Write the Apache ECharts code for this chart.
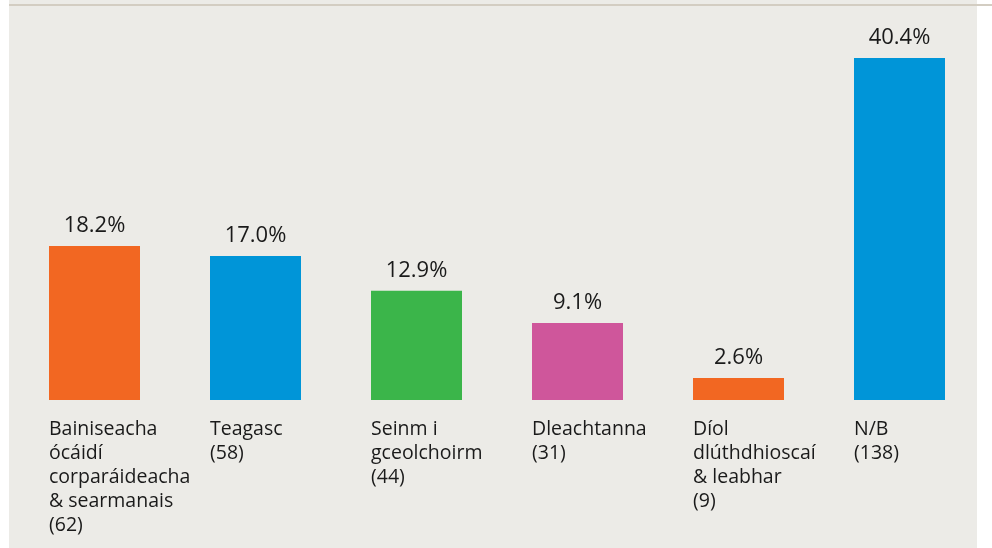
<!DOCTYPE html>
<html>
<head>
<meta charset="utf-8">
<script src="https://cdn.jsdelivr.net/npm/echarts@6/dist/echarts.min.js"></script>
<style>
    html, body { margin: 0; padding: 0; background: #ffffff; }
    #chart { width: 992px; height: 548px; }
</style>
</head>
<body>
<div id="chart"></div>
<script>
// Chart data
const categories = [
    'Bainiseacha\nócáidí\ncorparáideacha\n& searmanais\n(62)',
    'Teagasc\n(58)',
    'Seinm i\ngceolchoirm\n(44)',
    'Dleachtanna\n(31)',
    'Díol\ndlúthdhioscaí\n& leabhar\n(9)',
    'N/B\n(138)'
];
const percentValues = [18.2, 17.0, 12.9, 9.1, 2.6, 40.4];
const barColors = ['#f26722', '#0095d8', '#3bb54a', '#cf569b', '#f26722', '#0095d8'];

const chart = echarts.init(document.getElementById('chart'));

const option = {
    animation: false,
    graphic: [
        // panel background
        { type: 'rect', shape: { x: 9, y: 0, width: 968, height: 548 }, style: { fill: '#ecebe7' }, z: -10 },
        // top rule
        { type: 'rect', shape: { x: 9, y: 4, width: 983, height: 2 }, style: { fill: '#d3cdc2' }, z: -9 }
    ],
    grid: {
        left: 14,
        right: 12,
        top: 58,
        bottom: 148
    },
    xAxis: {
        type: 'category',
        data: categories,
        axisLine: { show: false },
        axisTick: { show: false },
        axisLabel: {
            interval: 0,
            align: 'left',
            verticalAlign: 'top',
            margin: 17,
            // shift so text starts at the bar's left edge
            padding: [0, 0, 0, -45.5],
            fontFamily: 'Open Sans',
            fontSize: 19.5,
            lineHeight: 24,
            color: '#1a1a1a'
        }
    },
    yAxis: {
        type: 'value',
        min: 0,
        max: 40.4,
        show: false
    },
    series: [
        {
            type: 'bar',
            barWidth: 91,
            data: percentValues.map((v, i) => ({
                value: v,
                itemStyle: { color: barColors[i] }
            })),
            label: {
                show: true,
                position: 'top',
                distance: 9,
                formatter: p => p.value.toFixed(1) + '%',
                fontFamily: 'Open Sans',
                fontSize: 22,
                color: '#1a1a1a'
            }
        }
    ]
};

chart.setOption(option);
</script>
</body>
</html>
